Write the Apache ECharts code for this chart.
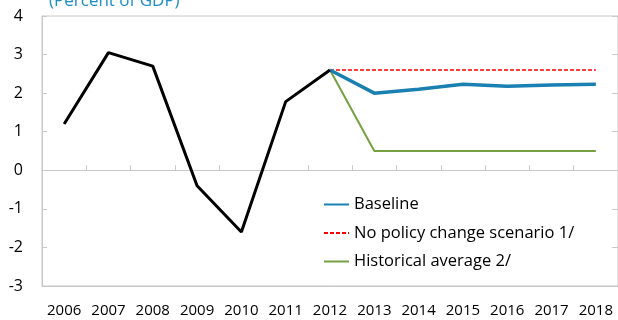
<!DOCTYPE html>
<html>
<head>
<meta charset="utf-8">
<style>
  html, body { margin: 0; padding: 0; background: #fff; }
  #chart { width: 618px; height: 320px; }
</style>
<script src="https://cdn.jsdelivr.net/npm/echarts@6/dist/echarts.min.js"></script>
</head>
<body>
<div id="chart"></div>
<script>
// Years on the horizontal axis
const years = ['2006', '2007', '2008', '2009', '2010', '2011', '2012',
               '2013', '2014', '2015', '2016', '2017', '2018'];

// Outturn up to 2012 (percent of GDP)
const actual = [1.2, 3.05, 2.7, -0.4, -1.6, 1.78, 2.6,
                null, null, null, null, null, null];

// Projections from 2012 onward
const baseline = [null, null, null, null, null, null, 2.6,
                  2.0, 2.1, 2.23, 2.18, 2.21, 2.23];
const noPolicyChange = [null, null, null, null, null, null, 2.6,
                        2.6, 2.6, 2.6, 2.6, 2.6, 2.6];
const historicalAverage = [null, null, null, null, null, null, 2.6,
                           0.5, 0.5, 0.5, 0.5, 0.5, 0.5];

const yMin = -3, yMax = 4, yStep = 1;

const font = '"Open Sans", "Noto Sans", sans-serif';
const gridGray = '#c8c8c8';

const chart = echarts.init(document.getElementById('chart'));
chart.setOption({
  animation: false,
  title: {
    text: '(Percent of GDP)',
    left: 44,
    top: -12,
    textStyle: { color: '#1b8ec6', fontFamily: font, fontSize: 17, fontWeight: 'normal' }
  },
  legend: {
    orient: 'vertical',
    left: 318,
    top: 191,
    itemWidth: 25,
    itemHeight: 10,
    itemGap: 11.5,
    itemStyle: { opacity: 0 },
    textStyle: { fontFamily: font, fontSize: 16.5, color: '#000' },
    data: ['Baseline', 'No policy change scenario 1/', 'Historical average 2/']
  },
  grid: {
    left: 42, top: 16, width: 580, height: 270,
    show: true, borderColor: gridGray, borderWidth: 1
  },
  xAxis: [
    {
      type: 'category',
      data: years,
      boundaryGap: true,
      position: 'bottom',
      axisLine: { onZero: false, show: true, lineStyle: { color: gridGray } },
      axisTick: { show: false },
      axisLabel: { interval: 0, fontFamily: font, fontSize: 15, color: '#000', margin: 17 },
      splitLine: { show: false }
    },
    {
      type: 'category',
      data: years,
      boundaryGap: true,
      position: 'bottom',
      axisLine: { onZero: true, show: true, lineStyle: { color: gridGray } },
      axisTick: { show: true, inside: true, interval: 0, length: 5, lineStyle: { color: gridGray } },
      axisLabel: { show: false },
      splitLine: { show: false }
    }
  ],
  yAxis: [
    {
      type: 'value',
      min: yMin, max: yMax, interval: yStep,
      axisLine: { show: true, lineStyle: { color: gridGray } },
      axisTick: { show: true, inside: true, length: 5, lineStyle: { color: gridGray } },
      axisLabel: { fontFamily: font, fontSize: 16, color: '#000', margin: 19 },
      splitLine: { show: false }
    },
    {
      type: 'value',
      position: 'right',
      min: yMin, max: yMax, interval: yStep,
      axisLine: { show: true, lineStyle: { color: gridGray } },
      axisTick: { show: true, inside: true, length: 6, lineStyle: { color: gridGray } },
      axisLabel: { show: false },
      splitLine: { show: false }
    }
  ],
  series: [
    {
      name: 'Actual',
      type: 'line',
      data: actual,
      symbol: 'none',
      z: 5,
      lineStyle: { color: '#000', width: 3 },
      itemStyle: { color: '#000' }
    },
    {
      name: 'No policy change scenario 1/',
      type: 'line',
      data: noPolicyChange,
      symbol: 'none',
      z: 3,
      lineStyle: { color: '#ff0000', width: 1.5, type: [4, 2] },
      itemStyle: { color: '#ff0000' }
    },
    {
      name: 'Historical average 2/',
      type: 'line',
      data: historicalAverage,
      symbol: 'none',
      z: 3,
      lineStyle: { color: '#77a043', width: 2 },
      itemStyle: { color: '#77a043' }
    },
    {
      name: 'Baseline',
      type: 'line',
      data: baseline,
      symbol: 'none',
      z: 4,
      lineStyle: { color: '#1a80b2', width: 3.5 },
      itemStyle: { color: '#1a80b2' }
    }
  ]
});
</script>
</body>
</html>
